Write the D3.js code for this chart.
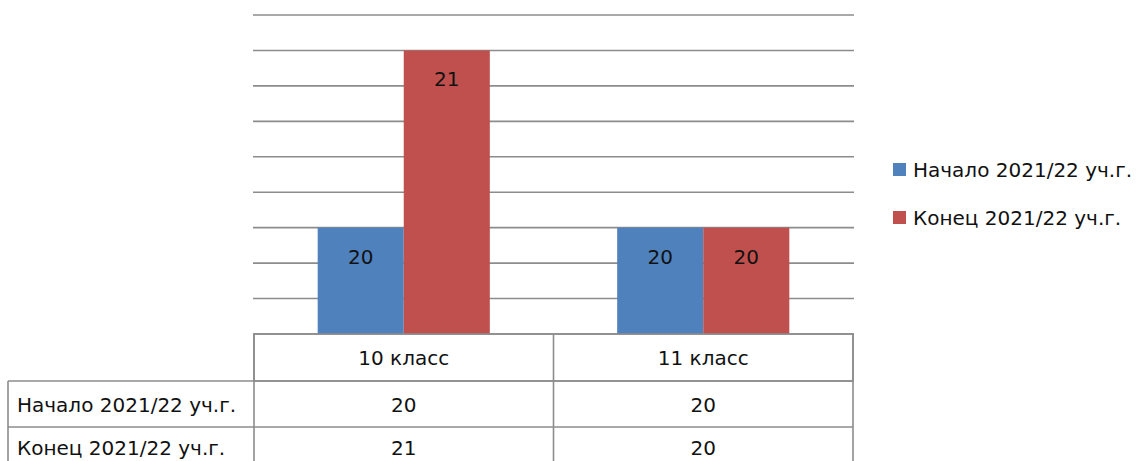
<!DOCTYPE html>
<html>
<head>
<meta charset="utf-8">
<script src="https://cdn.jsdelivr.net/npm/d3@7"></script>
<style>
  html, body { margin: 0; padding: 0; background: #fff; }
  svg { display: block; }
  text { font-family: "DejaVu Sans", sans-serif; fill: #111; }
</style>
</head>
<body>
<svg id="chart" width="1144" height="461"></svg>
<script>
const categories = ["10 класс", "11 класс"];
const seriesNames = ["Начало 2021/22 уч.г.", "Конец 2021/22 уч.г."];
const seriesStart = [20, 20];
const seriesEnd = [21, 20];
const seriesColors = ["#4F81BD", "#C0504D"];
const gridTicks = [19.4, 19.6, 19.8, 20.0, 20.2, 20.4, 20.6, 20.8, 21.0, 21.2];

const seriesValues = [seriesStart, seriesEnd];

const svg = d3.select("#chart");
const W = 1144, H = 461;

const plotLeft = 254, plotRight = 853, plotTop = 15, plotBottom = 334;

const x0 = d3.scaleBand().domain(categories).range([plotLeft, plotRight]).paddingInner(0).paddingOuter(0);
const x1 = d3.scaleBand().domain(seriesNames).range([0, x0.bandwidth()]).paddingInner(0).paddingOuter(0.74);
const y = d3.scaleLinear().domain([19.4, 21.2]).range([plotBottom, plotTop]);

// Gridlines
svg.append("g").selectAll("line").data(gridTicks).join("line")
  .attr("x1", plotLeft - 1).attr("x2", plotRight + 1)
  .attr("y1", d => y(d)).attr("y2", d => y(d))
  .attr("stroke", "#8c8c8c").attr("stroke-width", 1.6);

// Bars
const bars = [];
seriesNames.forEach((s, si) => {
  categories.forEach((c, ci) => {
    bars.push({ s, si, c, v: seriesValues[si][ci] });
  });
});

svg.append("g").selectAll("rect").data(bars).join("rect")
  .attr("x", d => x0(d.c) + x1(d.s))
  .attr("width", x1.bandwidth())
  .attr("y", d => y(d.v))
  .attr("height", d => y(19.4) - y(d.v))
  .attr("fill", d => seriesColors[d.si]);

// Data labels (inside end)
svg.append("g").selectAll("text").data(bars).join("text")
  .attr("x", d => x0(d.c) + x1(d.s) + x1.bandwidth() / 2)
  .attr("y", d => y(d.v) + 36)
  .attr("text-anchor", "middle")
  .attr("font-size", 20)
  .text(d => d.v);

// Data table
const rowTops = [334, 381, 427];
const rowH = [47, 46, 46];
const rowBase = [31, 31, 28];
const tableLeft = 8;
const borderColor = "#8c8c8c";
const tg = svg.append("g");

// header row
tg.append("rect").attr("x", plotLeft).attr("y", rowTops[0]).attr("width", plotRight - plotLeft).attr("height", rowH[0])
  .attr("fill", "none").attr("stroke", borderColor).attr("stroke-width", 1.6);
categories.forEach(c => {
  tg.append("line").attr("x1", x0(c)).attr("x2", x0(c)).attr("y1", rowTops[0]).attr("y2", H + 10)
    .attr("stroke", borderColor).attr("stroke-width", 1.6);
  tg.append("text").attr("x", x0(c) + x0.bandwidth() / 2).attr("y", rowTops[0] + rowBase[0])
    .attr("text-anchor", "middle").attr("font-size", 20).text(c);
});
tg.append("line").attr("x1", plotRight).attr("x2", plotRight).attr("y1", rowTops[0]).attr("y2", H + 10)
  .attr("stroke", borderColor).attr("stroke-width", 1.6);

// data rows
seriesNames.forEach((s, si) => {
  const top = rowTops[si + 1];
  const base = top + rowBase[si + 1];
  tg.append("line").attr("x1", tableLeft).attr("x2", plotRight).attr("y1", top).attr("y2", top)
    .attr("stroke", borderColor).attr("stroke-width", 1.6);
  tg.append("text").attr("x", 17).attr("y", base).attr("font-size", 20).text(s);
  categories.forEach((c, ci) => {
    tg.append("text").attr("x", x0(c) + x0.bandwidth() / 2).attr("y", base)
      .attr("text-anchor", "middle").attr("font-size", 20).text(seriesValues[si][ci]);
  });
});
tg.append("line").attr("x1", tableLeft).attr("x2", tableLeft).attr("y1", rowTops[1]).attr("y2", H + 10)
  .attr("stroke", borderColor).attr("stroke-width", 1.6);

// Legend
const legendY = [170, 218];
const lg = svg.append("g");
seriesNames.forEach((s, si) => {
  lg.append("rect").attr("x", 893).attr("y", legendY[si] - 7).attr("width", 13).attr("height", 13)
    .attr("fill", seriesColors[si]);
  lg.append("text").attr("x", 913).attr("y", legendY[si] + 7).attr("font-size", 20).text(s);
});
</script>
</body>
</html>
